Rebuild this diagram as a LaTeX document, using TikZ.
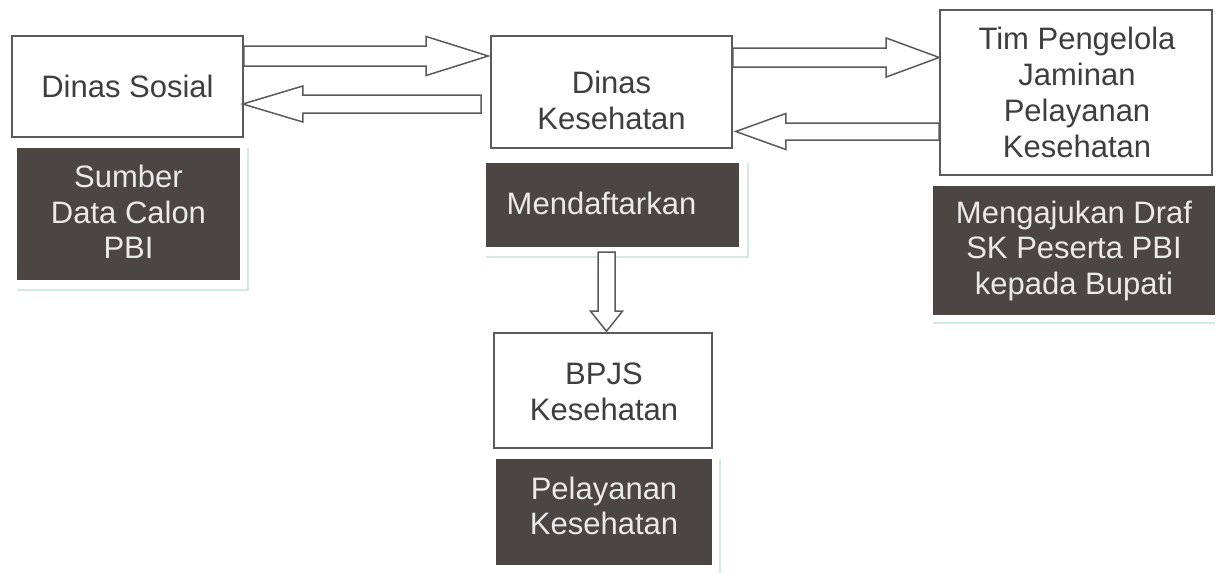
\documentclass[tikz,border=0pt]{standalone}
\usepackage{fontspec}
\setmainfont{Liberation Sans}
\usetikzlibrary{calc}
\definecolor{boxline}{HTML}{5A5A5A}
\definecolor{boxtext}{HTML}{3E3E3E}
\definecolor{darkfill}{HTML}{4B4644}
\definecolor{lighttext}{HTML}{EAEAEA}
\definecolor{faint}{HTML}{D2EAE2}
\tikzset{
  wbox/.style={draw=boxline, line width=1.6pt, fill=white,
    rectangle, inner sep=0pt},
  dbox/.style={fill=darkfill, draw=none, rectangle, inner sep=0pt},
  wtxt/.style={text=boxtext, align=center, inner sep=0pt,
    font=\fontsize{31pt}{36pt}\selectfont},
  dtxt/.style={text=lighttext, align=center, inner sep=0pt,
    font=\fontsize{31pt}{35.5pt}\selectfont},
  blk/.style={draw=boxline, line width=1.5pt, fill=white, line join=miter},
  faintline/.style={draw=faint, line width=1.2pt}
}
% #1 start, #2 tip, #3 shaft half width, #4 head half width, #5 head length
\newcommand{\blockarrow}[5]{%
  \coordinate (ba-s) at (#1);
  \coordinate (ba-t) at (#2);
  \coordinate (ba-b) at ($(ba-t)!#5!(ba-s)$);
  \draw[blk] ($(ba-s)!#3!90:(ba-t)$) -- ($(ba-b)!#3!90:(ba-t)$)
    -- ($(ba-b)!#4!90:(ba-t)$) -- (ba-t) -- ($(ba-b)!#4!-90:(ba-t)$)
    -- ($(ba-b)!#3!-90:(ba-t)$) -- ($(ba-s)!#3!-90:(ba-t)$) -- cycle;
}
\begin{document}
\begin{tikzpicture}[x=1pt, y=-1pt]
\useasboundingbox[fill=white] (0,0) rectangle (1219,573);

% faint scan frames under the dark boxes
\draw[faintline] (17,290) -- (248,290) -- (248,148);
\draw[faintline] (486,257) -- (748,257) -- (748,163);
\draw[faintline] (933,323) -- (1215,323);
\draw[faintline] (720,459) -- (720,573);

% white boxes
\node[wbox, minimum width=231pt, minimum height=101pt] (ds) at (127.5,86.5) {};
\node[wbox, minimum width=241pt, minimum height=112pt] (dk) at (611.5,92) {};
\node[wbox, minimum width=272pt, minimum height=165pt] (tim) at (1076,92.5) {};
\node[wbox, minimum width=218pt, minimum height=115pt] (bpjs) at (603,390.5) {};

% dark boxes
\node[dbox, minimum width=223pt, minimum height=132pt] (sumber) at (128.5,214) {};
\node[dbox, minimum width=253pt, minimum height=84pt] (mend) at (612.5,205) {};
\node[dbox, minimum width=282pt, minimum height=129pt] (aju) at (1074,250.5) {};
\node[dbox, minimum width=216pt, minimum height=106pt] (pel) at (604,512) {};

% texts
\node[wtxt] (ds-t) at ($(ds)+(0,-0.5)$) {Dinas Sosial};
\node[wtxt] (dk-t) at ($(dk)+(0,8)$) {Dinas\\Kesehatan};
\node[wtxt] (tim-t) at ($(tim)+(1,0)$) {Tim Pengelola\\Jaminan\\Pelayanan\\Kesehatan};
\node[wtxt] (bpjs-t) at ($(bpjs)+(1,1.5)$) {BPJS\\Kesehatan};
\node[dtxt] (sumber-t) at ($(sumber)+(0,-2)$) {Sumber\\Data Calon\\PBI};
\node[dtxt] (mend-t) at ($(mend)+(-11,-2)$) {Mendaftarkan};
\node[dtxt] (aju-t) at ($(aju)+(0,0)$) {Mengajukan Draf\\SK Peserta PBI\\kepada Bupati};
\node[dtxt] (pel-t) at ($(pel)+(0,-6)$) {Pelayanan\\Kesehatan};

% block arrows
\blockarrow{$(ds.east)+(0,-30.5)$}{$(dk.west)+(-2,-36)$}{10pt}{19.5pt}{62pt}
\blockarrow{$(dk.west)+(-9,12)$}{$(ds.east)+(-1,17.5)$}{9pt}{18pt}{60pt}
\blockarrow{$(dk.east)+(0,-34.5)$}{$(tim.west)+(0,-35)$}{9.5pt}{19.5pt}{53pt}
\blockarrow{$(tim.west)+(0,39)$}{$(dk.east)+(3,39.5)$}{8.5pt}{18pt}{50pt}
\blockarrow{$(mend.south)+(-6,5)$}{$(bpjs.north)+(3.5,-1)$}{8.5pt}{16pt}{20pt}
\end{tikzpicture}
\end{document}
